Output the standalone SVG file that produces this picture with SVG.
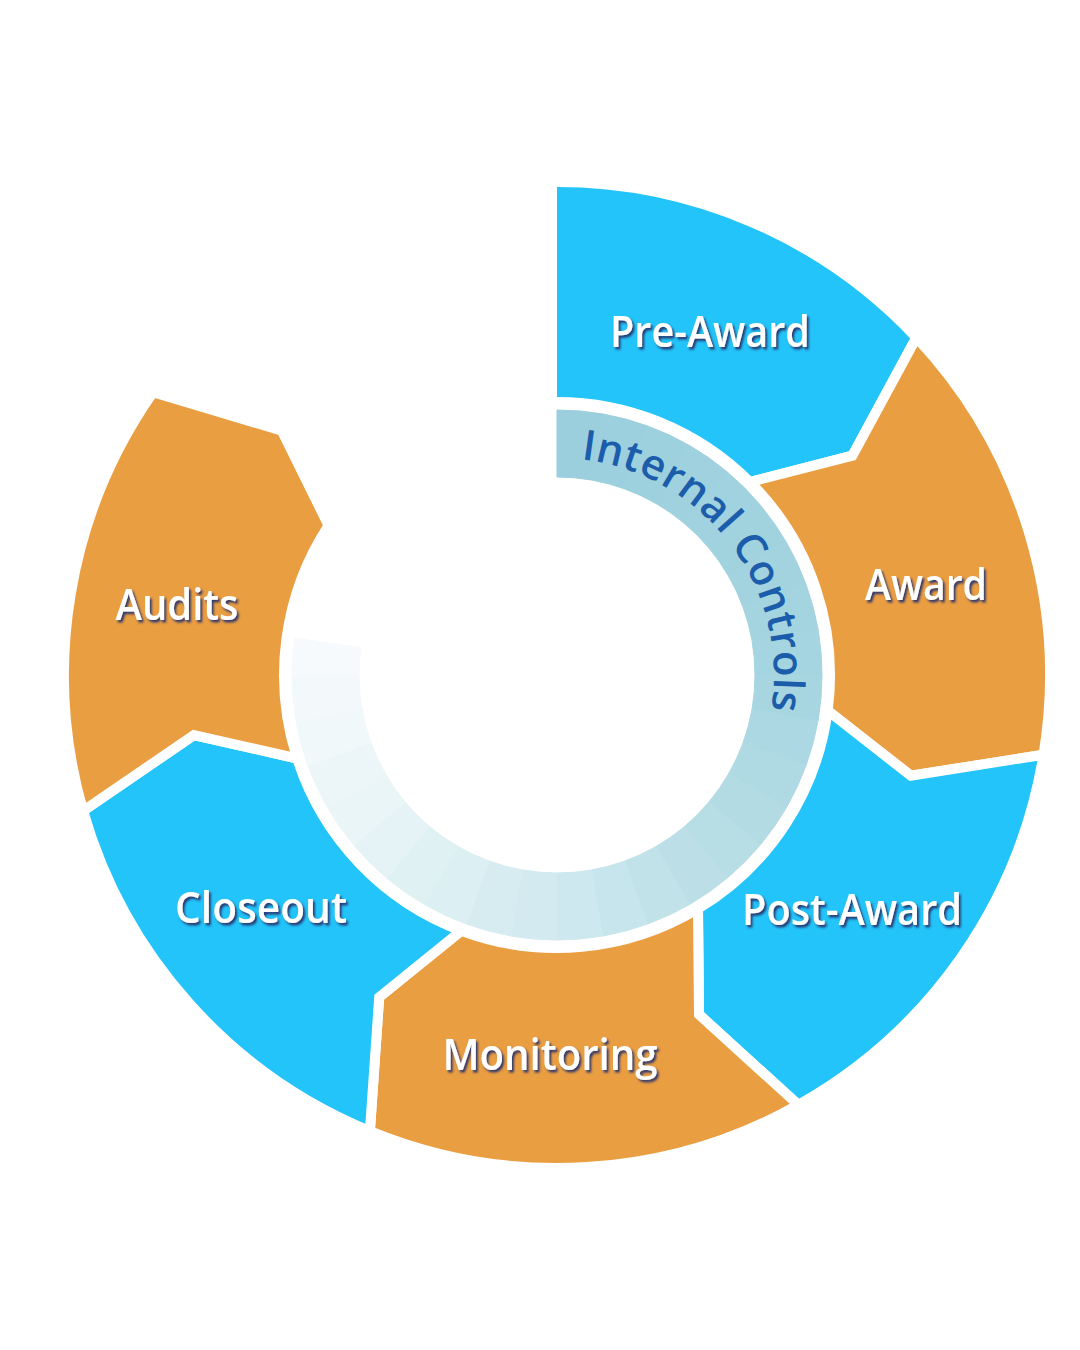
<svg xmlns="http://www.w3.org/2000/svg" width="1080" height="1350" viewBox="0 0 1080 1350">
<defs>
<style>
.seg{stroke:#ffffff;stroke-width:10;stroke-linejoin:miter;stroke-miterlimit:10}
.blue{fill:#22c4f9}
.orange{fill:#ea9e42}
.lbl{font-family:"Open Sans","Noto Sans","Liberation Sans",sans-serif;font-weight:600;font-size:43px;fill:#ffffff;text-anchor:middle;filter:url(#sh)}
.ring{font-family:"Open Sans","Noto Sans","Liberation Sans",sans-serif;font-weight:600;font-size:42px;fill:#1b5dab}
</style>
<filter id="sh" x="-10%" y="-30%" width="120%" height="160%">
<feDropShadow dx="2" dy="2.5" stdDeviation="1.2" flood-color="#26306e" flood-opacity="0.95"/>
</filter>
<path id="ringPath" d="M557,458 A217,217 0 0 1 557,892"/>
</defs>
<rect width="1080" height="1350" fill="#ffffff"/>

<g id="internal-controls">
<g stroke-width="1">
<path d="M557,410 A265,265 0 0 1 603.0,414.0 L591.4,480.0 A198,198 0 0 0 557,477 Z" fill="#9ccfdd" stroke="#9ccfdd"/>
<path d="M603.0,414.0 A265,265 0 0 1 647.6,426.0 L624.7,488.9 A198,198 0 0 0 591.4,480.0 Z" fill="#9dd0de" stroke="#9dd0de"/>
<path d="M647.6,426.0 A265,265 0 0 1 689.5,445.5 L656.0,503.5 A198,198 0 0 0 624.7,488.9 Z" fill="#9ed1de" stroke="#9ed1de"/>
<path d="M689.5,445.5 A265,265 0 0 1 727.3,472.0 L684.3,523.3 A198,198 0 0 0 656.0,503.5 Z" fill="#9fd1de" stroke="#9fd1de"/>
<path d="M727.3,472.0 A265,265 0 0 1 760.0,504.7 L708.7,547.7 A198,198 0 0 0 684.3,523.3 Z" fill="#a0d2df" stroke="#a0d2df"/>
<path d="M760.0,504.7 A265,265 0 0 1 786.5,542.5 L728.5,576.0 A198,198 0 0 0 708.7,547.7 Z" fill="#a1d3df" stroke="#a1d3df"/>
<path d="M786.5,542.5 A265,265 0 0 1 806.0,584.4 L743.1,607.3 A198,198 0 0 0 728.5,576.0 Z" fill="#a2d3df" stroke="#a2d3df"/>
<path d="M806.0,584.4 A265,265 0 0 1 818.0,629.0 L752.0,640.6 A198,198 0 0 0 743.1,607.3 Z" fill="#a3d4e0" stroke="#a3d4e0"/>
<path d="M818.0,629.0 A265,265 0 0 1 822,675 L755,675 A198,198 0 0 0 752.0,640.6 Z" fill="#a4d5e0" stroke="#a4d5e0"/>
<path d="M822,675 A265,265 0 0 1 818.0,721.0 L752.0,709.4 A198,198 0 0 0 755,675 Z" fill="#a7d6e1" stroke="#a7d6e1"/>
<path d="M818.0,721.0 A265,265 0 0 1 806.0,765.6 L743.1,742.7 A198,198 0 0 0 752.0,709.4 Z" fill="#abd8e2" stroke="#abd8e2"/>
<path d="M806.0,765.6 A265,265 0 0 1 786.5,807.5 L728.5,774.0 A198,198 0 0 0 743.1,742.7 Z" fill="#afdae3" stroke="#afdae3"/>
<path d="M786.5,807.5 A265,265 0 0 1 760.0,845.3 L708.7,802.3 A198,198 0 0 0 728.5,774.0 Z" fill="#b3dbe4" stroke="#b3dbe4"/>
<path d="M760.0,845.3 A265,265 0 0 1 727.3,878.0 L684.3,826.7 A198,198 0 0 0 708.7,802.3 Z" fill="#b7dde5" stroke="#b7dde5"/>
<path d="M727.3,878.0 A265,265 0 0 1 689.5,904.5 L656.0,846.5 A198,198 0 0 0 684.3,826.7 Z" fill="#bcdfe7" stroke="#bcdfe7"/>
<path d="M689.5,904.5 A265,265 0 0 1 647.6,924.0 L624.7,861.1 A198,198 0 0 0 656.0,846.5 Z" fill="#c2e2e9" stroke="#c2e2e9"/>
<path d="M647.6,924.0 A265,265 0 0 1 603.0,936.0 L591.4,870.0 A198,198 0 0 0 624.7,861.1 Z" fill="#c7e5ec" stroke="#c7e5ec"/>
<path d="M603.0,936.0 A265,265 0 0 1 557,940 L557,873 A198,198 0 0 0 591.4,870.0 Z" fill="#cde8ee" stroke="#cde8ee"/>
<path d="M557,940 A265,265 0 0 1 511.0,936.0 L522.6,870.0 A198,198 0 0 0 557,873 Z" fill="#d2eaf0" stroke="#d2eaf0"/>
<path d="M511.0,936.0 A265,265 0 0 1 466.4,924.0 L489.3,861.1 A198,198 0 0 0 522.6,870.0 Z" fill="#d7ecf1" stroke="#d7ecf1"/>
<path d="M466.4,924.0 A265,265 0 0 1 424.5,904.5 L458.0,846.5 A198,198 0 0 0 489.3,861.1 Z" fill="#dceff3" stroke="#dceff3"/>
<path d="M424.5,904.5 A265,265 0 0 1 386.7,878.0 L429.7,826.7 A198,198 0 0 0 458.0,846.5 Z" fill="#e0f1f4" stroke="#e0f1f4"/>
<path d="M386.7,878.0 A265,265 0 0 1 354.0,845.3 L405.3,802.3 A198,198 0 0 0 429.7,826.7 Z" fill="#e5f3f6" stroke="#e5f3f6"/>
<path d="M354.0,845.3 A265,265 0 0 1 327.5,807.5 L385.5,774.0 A198,198 0 0 0 405.3,802.3 Z" fill="#e9f5f7" stroke="#e9f5f7"/>
<path d="M327.5,807.5 A265,265 0 0 1 308.0,765.6 L370.9,742.7 A198,198 0 0 0 385.5,774.0 Z" fill="#ecf6f8" stroke="#ecf6f8"/>
<path d="M308.0,765.6 A265,265 0 0 1 296.0,721.0 L362.0,709.4 A198,198 0 0 0 370.9,742.7 Z" fill="#f0f8f9" stroke="#f0f8f9"/>
<path d="M296.0,721.0 A265,265 0 0 1 292,675 L359,675 A198,198 0 0 0 362.0,709.4 Z" fill="#f3f9fb" stroke="#f3f9fb"/>
<path d="M292,675 A265,265 0 0 1 294.6,638.1 L360.9,647.4 A198,198 0 0 0 359,675 Z" fill="#f7fafc" stroke="#f7fafc"/>
</g>
<text class="ring"><textPath href="#ringPath" startOffset="24" textLength="352" lengthAdjust="spacing">Internal Controls</textPath></text>
</g>

<g id="pre-award">
<path class="seg blue" d="M552,182 A493,493 0 0 1 916.4,337.5 L852.4,455.6 L750.0,482.0 A273,273 0 0 0 552,402 Z"/>
<text class="lbl" x="710" y="347" textLength="200" lengthAdjust="spacingAndGlyphs">Pre-Award</text>
</g>

<g id="award">
<path class="seg orange" d="M916.4,337.5 A493,493 0 0 1 1043.5,754.7 L910.9,775.8 L827.7,710.6 A273,273 0 0 0 750.0,482.0 L852.4,455.6 Z"/>
<text class="lbl" x="926" y="600" textLength="122" lengthAdjust="spacingAndGlyphs">Award</text>
</g>

<g id="post-award">
<path class="seg blue" d="M1043.5,754.7 A493,493 0 0 1 798.3,1104.9 L699.0,1014.5 L698.0,908.8 A273,273 0 0 0 827.7,710.6 L910.9,775.8 Z"/>
<text class="lbl" x="852" y="925" textLength="220" lengthAdjust="spacingAndGlyphs">Post-Award</text>
</g>

<g id="monitoring">
<path class="seg orange" d="M798.3,1104.9 A493,493 0 0 1 369.9,1131.1 L379.2,997.2 L461.4,930.7 A273,273 0 0 0 698.0,908.8 L699.0,1014.5 Z"/>
<text class="lbl" x="550" y="1070" textLength="215" lengthAdjust="spacingAndGlyphs">Monitoring</text>
</g>

<g id="closeout">
<path class="seg blue" d="M369.9,1131.1 A493,493 0 0 1 83.1,810.9 L193.9,735.1 L297.1,758.5 A273,273 0 0 0 461.4,930.7 L379.2,997.2 Z"/>
<text class="lbl" x="261" y="923" textLength="172" lengthAdjust="spacingAndGlyphs">Closeout</text>
</g>

<g id="audits">
<path class="seg orange" d="M83.1,810.9 A493,493 0 0 1 153.2,392.2 L281.8,430.7 L328.6,525.5 A273,273 0 0 0 297.1,758.5 L193.9,735.1 Z"/>
<text class="lbl" x="177" y="620" textLength="123" lengthAdjust="spacingAndGlyphs">Audits</text>
</g>

<g id="connectors"></g>
</svg>
